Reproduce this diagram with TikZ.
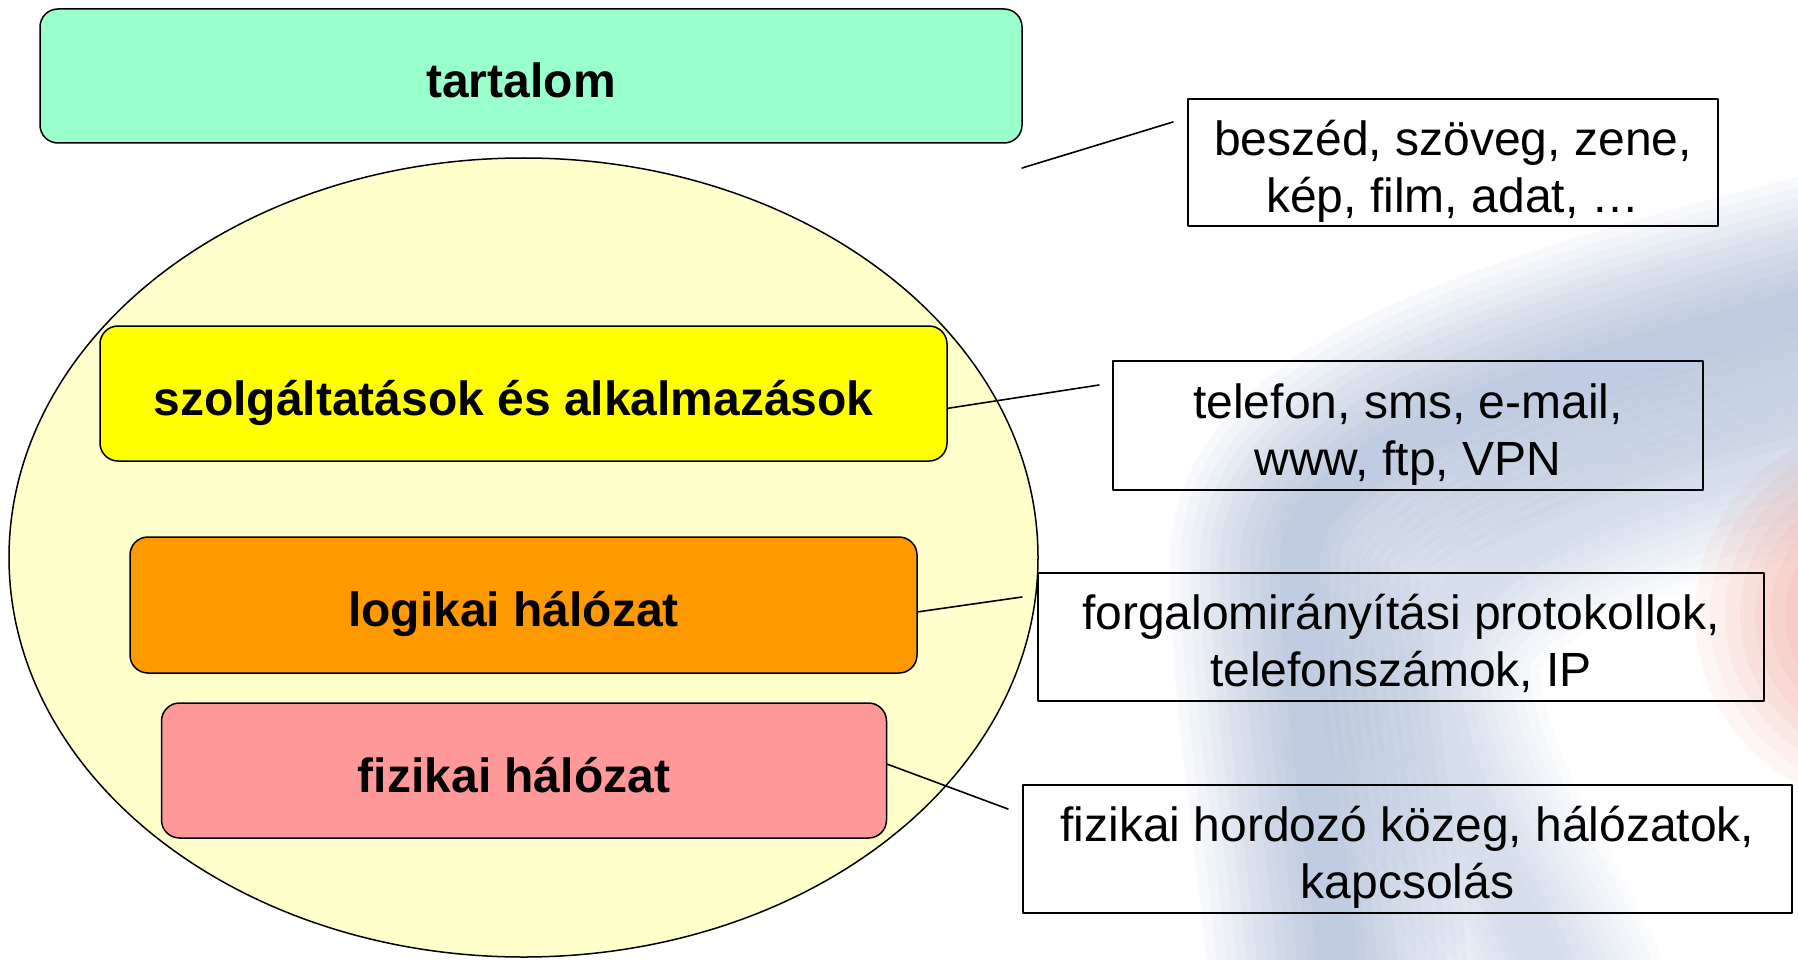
\documentclass[tikz,border=0pt]{standalone}
\usepackage{fontspec}
\setmainfont{Liberation Sans}
\usepackage{tikz}
\usetikzlibrary{shapes.geometric}
\definecolor{tartzold}{RGB}{153,255,204}
\definecolor{szolgsarga}{RGB}{255,255,0}
\definecolor{lognarancs}{RGB}{255,153,0}
\definecolor{fizrozsa}{RGB}{255,153,153}
\definecolor{tojassarga}{RGB}{255,255,204}
\definecolor{wmkek}{RGB}{120,145,190}
\definecolor{wmpiros}{RGB}{230,110,90}

\newcommand{\retegszoveg}[1]{\hspace*{-10pt}#1\hspace*{10pt}}
\newcommand{\peldaszoveg}[2]{\raisebox{-10pt}[\height][\depth]{\begin{tabular}{@{}c@{}}#1\\#2\end{tabular}}}

\tikzset{
	reteg/.style={draw=black,line width=1.5pt,rounded corners=18pt,inner sep=0pt,text height=43pt,text depth=0pt,font=\fontsize{48}{57}\selectfont\bfseries},
	pelda/.style={draw=black,line width=1.5pt,inner sep=0pt,font=\fontsize{48}{57}\selectfont},
	vonal/.style={line width=1.6pt,color=black}
}

\begin{document}
\begin{tikzpicture}[line cap=round,line join=round,x=1pt,y=-1pt]
					\useasboundingbox (0,0) rectangle (1798,960);
					
					% halvany hatter logo
					\begin{scope}
					\clip (0,0) rectangle (1798,960);
					\foreach \w in {260,240,...,40}
					\draw[line width=\w pt,color=wmkek,opacity=0.05] (1900,285) .. controls (1600,360) and (1300,440) .. (1300,560) .. controls (1300,700) and (1330,850) .. (1340,1000);
					
					\foreach \w in {220,200,...,40}
					\draw[line width=\w pt,color=wmkek,opacity=0.035] (1880,430) .. controls (1600,480) and (1420,560) .. (1430,680) .. controls (1440,800) and (1520,900) .. (1560,1000);
					
					\foreach \r in {190,175,...,55}
					\fill[color=wmpiros,opacity=0.06] (1885,615) circle (\r pt);
					\end{scope}
					
					\node[draw=black,line width=1.5pt,fill=tojassarga,ellipse,inner sep=0pt,minimum width=1029pt,minimum height=799pt] (tojas) at (523.5,557.5) {};
					
					\node[reteg,fill=tartzold,minimum width=982pt,minimum height=134pt] (tart) at (531,76) {\retegszoveg{tartalom}};
					
					\node[reteg,fill=szolgsarga,minimum width=847pt,minimum height=135pt] (szolg) at (523.5,393.5) {\retegszoveg{szolgáltatások és alkalmazások}};
					
					\node[reteg,fill=lognarancs,minimum width=787pt,minimum height=136pt] (logi) at (523.5,605) {\retegszoveg{logikai hálózat}};
					
					\node[reteg,fill=fizrozsa,minimum width=725pt,minimum height=135pt] (fiz) at (524,770.5) {\retegszoveg{fizikai hálózat}};
					
					\node[pelda,minimum width=530pt,minimum height=127pt] (p1) at (1453,162.5) {\peldaszoveg{beszéd, szöveg, zene,}{kép, film, adat, \dots}};
					
					\node[pelda,minimum width=590pt,minimum height=129pt] (p2) at (1408,425.5) {\peldaszoveg{telefon, sms, e-mail,}{www, ftp, VPN}};
					
					\node[pelda,minimum width=726pt,minimum height=128pt] (p3) at (1401,637) {\peldaszoveg{forgalomirányítási protokollok,}{telefonszámok, IP}};
					
					\node[pelda,minimum width=769pt,minimum height=128pt] (p4) at (1407.5,849) {\peldaszoveg{fizikai hordozó közeg, hálózatok,}{kapcsolás}};
					
					\coordinate (v1a) at (1022,168);
					\coordinate (v1b) at (1173,122);
					\coordinate (v2) at (1099,385);
					\coordinate (v3) at (1022,597);
					\coordinate (v4) at (1008,809);
					
					\draw[vonal] (v1a) -- (v1b);
					\draw[vonal] (szolg.-2.9) -- (v2);
					\draw[vonal] (logi.-1) -- (v3);
					\draw[vonal] (fiz.1.2) -- (v4);
				\end{tikzpicture}
\end{document}
